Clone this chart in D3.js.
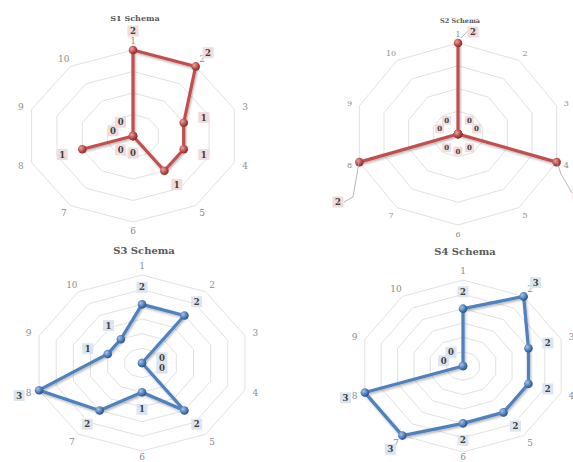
<!DOCTYPE html>
<head>
  <meta charset="utf-8" />
  <script src="https://d3js.org/d3.v7.min.js"></script>
  <style>
    body { margin: 0; background: #fff; }
    text { font-family: "DejaVu Serif", "Liberation Serif", serif; }
  </style>
</head>
<body>
  <script>
    // donnees
    var axes = ["1", "2", "3", "4", "5", "6", "7", "8", "9", "10"];
    var titles = ["S1 Schema", "S2 Schema", "S3 Schema", "S4 Schema"];
    var s1Values = [2, 2, 1, 1, 1, 0, 0, 1, 0, 0];
    var s2Values = [2, 0, 0, 2, 0, 0, 0, 2, 0, 0];
    var s3Values = [2, 2, 0, 0, 2, 1, 2, 3, 1, 1];
    var s4Values = [2, 3, 2, 2, 2, 2, 3, 3, 0, 0];
    var maxValues = [2, 2, 3, 3];

    var width = 573, height = 462;

    var svg = d3.select("body").append("svg")
      .attr("width", width)
      .attr("height", height);

    var defs = svg.append("defs");
    [["red", "#e8a3a1", "#c0504d", "#7d2a28"], ["blue", "#a9c4e6", "#4f81bd", "#284f80"]].forEach(function (c) {
      var g = defs.append("radialGradient").attr("id", "ball-" + c[0])
        .attr("cx", "35%").attr("cy", "35%").attr("r", "70%");
      g.append("stop").attr("offset", "0%").attr("stop-color", c[1]);
      g.append("stop").attr("offset", "55%").attr("stop-color", c[2]);
      g.append("stop").attr("offset", "100%").attr("stop-color", c[3]);
    });
    var f = defs.append("filter").attr("id", "shadow").attr("x", "-20%").attr("y", "-20%").attr("width", "140%").attr("height", "140%");
    f.append("feDropShadow").attr("dx", 1).attr("dy", 1.5).attr("stdDeviation", 1).attr("flood-opacity", 0.3);

    var charts = [
      { values: s1Values, cx: 133, cy: 136, ry: 86, k: 1.24, rings: 4, color: "#c0504d", ball: "red", box: "#f2dcdb", titleY: 21, titleSize: 8, axisSize: 9,
        moved: { 0: [133, 31] } },
      { values: s2Values, cx: 458, cy: 134, ry: 91, k: 1.14, rings: 4, color: "#c0504d", ball: "red", box: "#f2dcdb", titleY: 23, titleSize: 6.5, axisSize: 8,
        moved: { 0: [473, 32, [[461, 38], [468, 31]]], 3: [578, 194, [[557, 162], [561, 174], [572, 193]]], 7: [338, 202, [[359, 162], [353, 197], [344, 202]]] } },
      { values: s3Values, cx: 142, cy: 363, ry: 88, k: 1.23, rings: 6, color: "#4f81bd", ball: "blue", box: "#dbe5f1", titleY: 254, titleSize: 10, axisSize: 9 },
      { values: s4Values, cx: 463, cy: 366, ry: 86, k: 1.2, rings: 6, color: "#4f81bd", ball: "blue", box: "#dbe5f1", titleY: 255, titleSize: 10, axisSize: 9 }
    ];

    var angle = d3.scaleLinear().domain([0, axes.length]).range([0, 2 * Math.PI]);

    charts.forEach(function (c, ci) {
      var r = d3.scaleLinear().domain([0, maxValues[ci]]).range([0, c.ry]);
      function px(v, i) { return c.cx + r(v) * c.k * Math.sin(angle(i)); }
      function py(v, i) { return c.cy - r(v) * Math.cos(angle(i)); }

      var g = svg.append("g");

      // anneaux de la grille
      var ringVals = d3.range(1, c.rings + 1).map(function (j) { return maxValues[ci] * j / c.rings; });
      var ring = d3.line().curve(d3.curveLinearClosed);
      g.selectAll("path.ring").data(ringVals).join("path")
        .attr("class", "ring")
        .attr("d", function (v) { return ring(axes.map(function (a, i) { return [px(v, i), py(v, i)]; })); })
        .attr("fill", "none")
        .attr("stroke", "#d9d9d9")
        .attr("stroke-width", 0.8);

      // libelles des axes
      g.selectAll("text.axis").data(axes).join("text")
        .attr("class", "axis")
        .attr("x", function (d, i) { return c.cx + (c.ry + 9) * c.k * Math.sin(angle(i)); })
        .attr("y", function (d, i) { return Math.min(c.cy - (c.ry + 9) * Math.cos(angle(i)), 457); })
        .attr("dy", "0.35em")
        .attr("text-anchor", "middle")
        .attr("font-size", c.axisSize)
        .attr("fill", "#8c8c8c")
        .text(function (d) { return d; });

      // titre
      g.append("text")
        .attr("x", c.cx + 2).attr("y", c.titleY)
        .attr("text-anchor", "middle")
        .attr("font-size", c.titleSize)
        .attr("font-weight", "bold")
        .attr("fill", "#595959")
        .text(titles[ci]);

      // serie
      var line = d3.line()
        .x(function (v, i) { return px(v, i); })
        .y(function (v, i) { return py(v, i); })
        .curve(d3.curveLinearClosed);
      g.append("path")
        .attr("d", line(c.values))
        .attr("fill", "none")
        .attr("stroke", c.color)
        .attr("stroke-width", 3.2)
        .attr("stroke-linejoin", "round")
        .attr("filter", "url(#shadow)");

      g.selectAll("circle.pt").data(c.values).join("circle")
        .attr("class", "pt")
        .attr("cx", function (v, i) { return px(v, i); })
        .attr("cy", function (v, i) { return py(v, i); })
        .attr("r", 4.3)
        .attr("fill", "url(#ball-" + c.ball + ")");

      // etiquettes de donnees
      var moved = c.moved || {};
      c.values.forEach(function (v, i) {
        var lx, ly;
        if (moved[i]) {
          lx = moved[i][0]; ly = moved[i][1];
          if (moved[i][2]) {
            g.append("path")
              .attr("d", d3.line()(moved[i][2]))
              .attr("fill", "none")
              .attr("stroke", "#a6a6a6")
              .attr("stroke-width", 0.8);
          }
        } else {
          lx = px(v, i) + 17 * c.k * Math.sin(angle(i));
          ly = py(v, i) - 17 * Math.cos(angle(i));
        }
        var small = ci === 1 && v === 0;
        var s = small ? 9 : 11;
        g.append("rect")
          .attr("x", lx - s / 2).attr("y", ly - s / 2)
          .attr("width", s).attr("height", s)
          .attr("fill", c.box);
        g.append("text")
          .attr("x", lx).attr("y", ly)
          .attr("dy", "0.36em")
          .attr("text-anchor", "middle")
          .attr("font-size", small ? 7 : 8.5)
          .attr("font-weight", "bold")
          .attr("fill", "#404040")
          .text(v);
      });
    });
  </script>
</body>
